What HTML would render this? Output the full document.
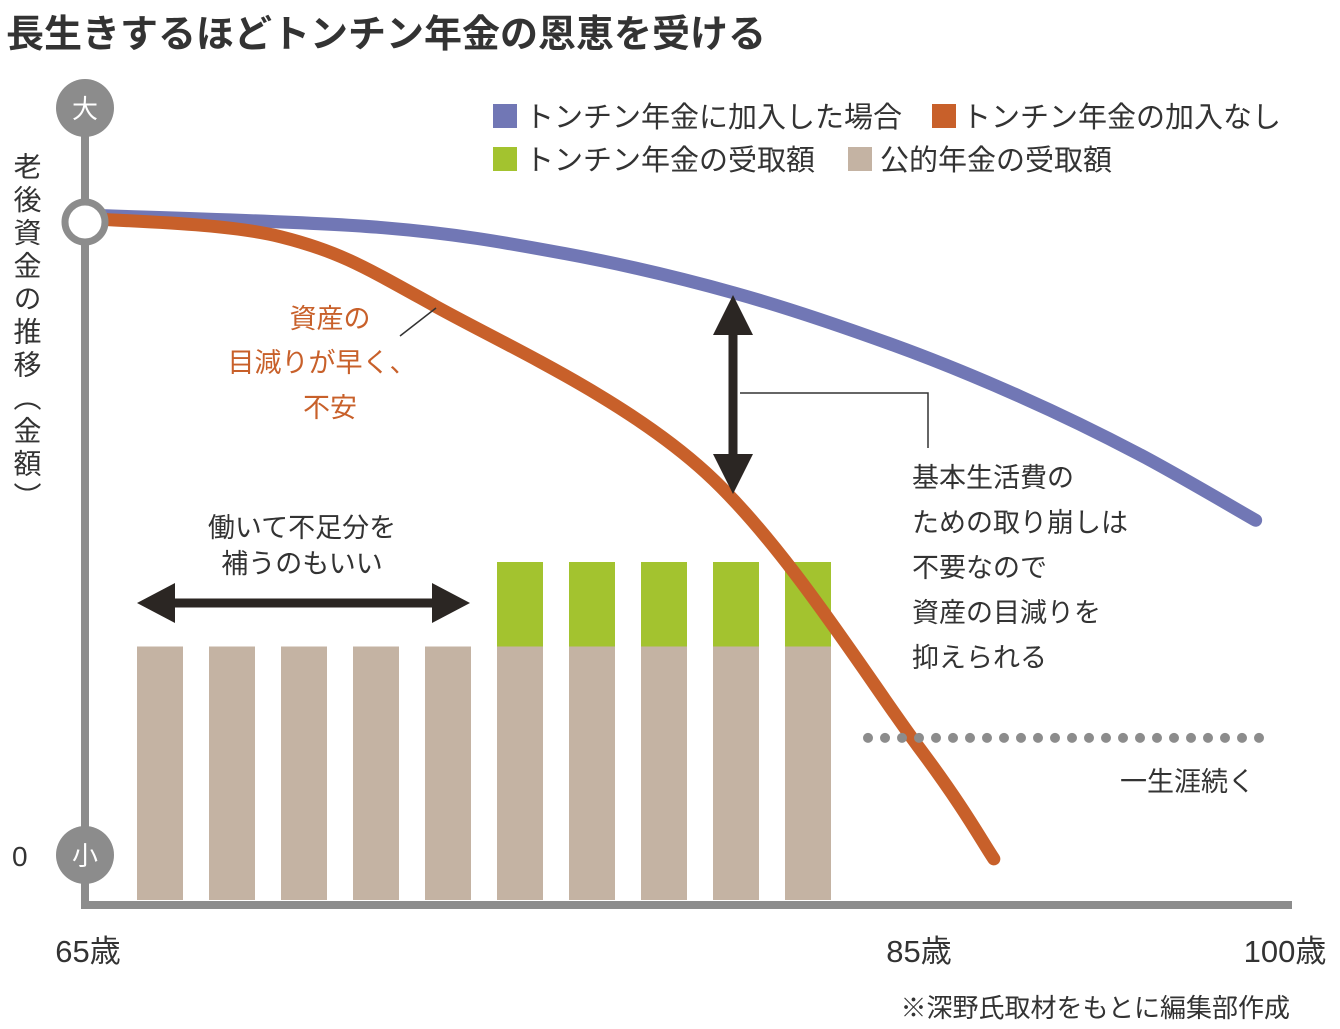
<!DOCTYPE html>
<html><head><meta charset="utf-8">
<style>
body{margin:0;background:#fff;}
svg{display:block;font-family:"Liberation Sans","Noto Sans CJK JP",sans-serif;}
</style></head>
<body>
<svg id="chart" width="1340" height="1029" viewBox="0 0 1340 1029" xmlns="http://www.w3.org/2000/svg">
<text x="6" y="47" font-size="38" font-weight="bold" fill="#333">長生きするほどトンチン年金の恩恵を受ける</text>
<g>
 <rect x="493" y="104" width="24" height="24" fill="#7177b5"/>
 <text x="525" y="127" font-size="29" fill="#333">トンチン年金に加入した場合</text>
 <rect x="932" y="104" width="24" height="24" fill="#c8602a"/>
 <text x="962" y="127" font-size="29" fill="#333">トンチン年金の加入なし</text>
 <rect x="493" y="147" width="24" height="24" fill="#a3c32f"/>
 <text x="525" y="170" font-size="29" fill="#333">トンチン年金の受取額</text>
 <rect x="848" y="147" width="24" height="24" fill="#c4b3a3"/>
 <text x="880" y="170" font-size="29" fill="#333">公的年金の受取額</text>
</g>
<text x="26" y="152" font-size="28" fill="#333" style="writing-mode:vertical-rl" letter-spacing="5">老後資金の推移（金額）</text>
<text x="12" y="866" font-size="28" fill="#333">0</text>
<g id="bars"></g>
<g id="lines"></g>
<line x1="85" y1="100" x2="85" y2="909" stroke="#8c8c8c" stroke-width="8"/>
<line x1="81" y1="905" x2="1292" y2="905" stroke="#8c8c8c" stroke-width="8"/>
<circle cx="85" cy="108" r="29" fill="#8c8c8c"/>
<text x="85" y="118" font-size="26" fill="#fff" text-anchor="middle">大</text>
<circle cx="85" cy="222" r="20" fill="#fff" stroke="#8c8c8c" stroke-width="7"/>
<circle cx="85" cy="855" r="29" fill="#8c8c8c"/>
<text x="85" y="865" font-size="26" fill="#fff" text-anchor="middle">小</text>
<g id="xticks"></g>
<line x1="400" y1="336" x2="436" y2="308" stroke="#333" stroke-width="1.5"/>
<g font-size="27" fill="#c8602a" text-anchor="middle">
 <text x="330" y="328">資産の</text><text x="322" y="372">目減りが早く、</text><text x="330" y="417">不安</text>
</g>
<g fill="#2b2623" stroke="#2b2623">
 <line x1="733" y1="320" x2="733" y2="468" stroke-width="9"/>
 <polygon points="733,295 713,335 753,335" stroke="none"/>
 <polygon points="733,494 713,454 753,454" stroke="none"/>
</g>
<polyline points="740,393 928,393 928,448" fill="none" stroke="#333" stroke-width="1.5"/>
<g font-size="27" fill="#333">
 <text x="912" y="487">基本生活費の</text><text x="912" y="532">ための取り崩しは</text><text x="912" y="577">不要なので</text><text x="912" y="622">資産の目減りを</text><text x="912" y="667">抑えられる</text>
</g>
<g fill="#2b2623" stroke="#2b2623">
 <line x1="160" y1="603" x2="447" y2="603" stroke-width="9"/>
 <polygon points="137,603 175,583 175,623" stroke="none"/>
 <polygon points="470,603 432,583 432,623" stroke="none"/>
</g>
<g font-size="27" fill="#333" text-anchor="middle">
 <text x="302" y="537">働いて不足分を</text><text x="302" y="573">補うのもいい</text>
</g>
<g id="dots"></g>
<text x="1120" y="791" font-size="27" fill="#333">一生涯続く</text>
<text x="1290" y="1017" font-size="26" fill="#333" text-anchor="end">※深野氏取材をもとに編集部作成</text>
</svg>
<script>
const ticks=[65,85,100];
const tickLabels=["65歳","85歳","100歳"];
const publicPension=[30,30,30,30,30,30,30,30,30,30];
const tontineReceipt=[0,0,0,0,0,10,10,10,10,10];
const blueAges=[65,72,76.5,80.6,84.4,89.2,94,98.8];
const blueVals=[100,98.1,94.0,87.8,79.7,71.6,62.7,52.3];
const orangeAges=[65,69.7,73.4,79.9,85,88.1];
const orangeVals=[99.5,96.6,85.8,59.8,17.0,-0.6];
const dottedValue=18.3;
const NS="http://www.w3.org/2000/svg";
function xs(a){return a<=85?85+(a-65)*(833/20):918+(a-85)*(367/15);}
function ys(v){return 855-v*6.4;}
function yb(v){return 900-v*8.45;}
function mk(t,attrs,parent){const e=document.createElementNS(NS,t);for(const k in attrs)e.setAttribute(k,attrs[k]);parent.appendChild(e);return e;}
const bg=document.getElementById('bars');
publicPension.forEach((v,i)=>{
 const x=137+i*72;
 const r=mk('rect',{x:x,y:yb(v),width:46,height:yb(0)-yb(v),fill:'#c4b3a3'},bg);
 
 
 if(tontineReceipt[i]>0){
  const g=mk('rect',{x:x,y:yb(v+tontineReceipt[i]),width:46,height:yb(v)-yb(v+tontineReceipt[i]),fill:'#a3c32f'},bg);
  
  
 }
});
function smooth(pts){
 let d='M'+pts[0][0]+','+pts[0][1];
 for(let i=0;i<pts.length-1;i++){
  const p0=pts[i-1]||pts[i],p1=pts[i],p2=pts[i+1],p3=pts[i+2]||p2;
  const c1=[p1[0]+(p2[0]-p0[0])/6,p1[1]+(p2[1]-p0[1])/6];
  const c2=[p2[0]-(p3[0]-p1[0])/6,p2[1]-(p3[1]-p1[1])/6];
  d+=' C'+c1+' '+c2+' '+p2;
 }
 return d;
}
const lg=document.getElementById('lines');
const bl=mk('path',{d:smooth(blueAges.map((a,i)=>[xs(a),ys(blueVals[i])])),fill:'none',stroke:'#7177b5','stroke-width':13,'stroke-linecap':'round'},lg);


const ol=mk('path',{d:smooth(orangeAges.map((a,i)=>[xs(a),ys(orangeVals[i])])),fill:'none',stroke:'#c8602a','stroke-width':13,'stroke-linecap':'round'},lg);


const tg=document.getElementById('xticks');
ticks.forEach((t,i)=>{
 const e=mk('text',{x:xs(t)+(i==0?3:i==1?1:0),y:962,'font-size':31,fill:'#333','text-anchor':'middle'},tg);
 e.textContent=tickLabels[i];
 
 
});
const dg=document.getElementById('dots');
for(let x=868;x<=1275;x+=17){mk('circle',{cx:x,cy:ys(dottedValue),r:5,fill:'#8c8c8c'},dg);}
</script>
</body></html>
